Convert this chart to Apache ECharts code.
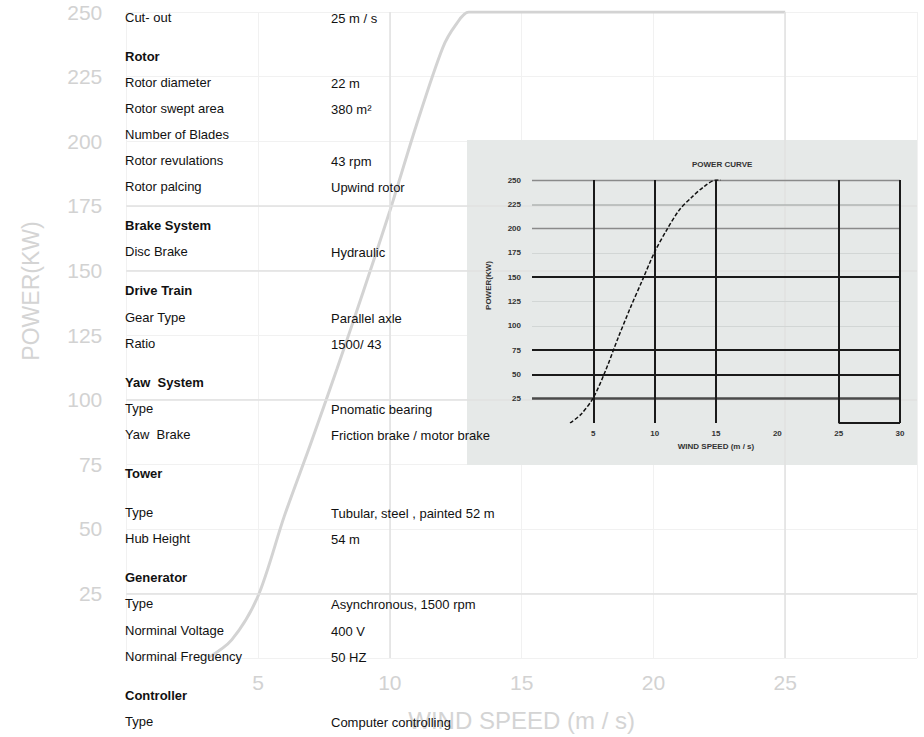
<!DOCTYPE html>
<html><head><meta charset="utf-8">
<script src="https://cdn.jsdelivr.net/npm/echarts@6/dist/echarts.min.js"></script>
<style>html,body{margin:0;padding:0;background:#fff}#c{width:924px;height:737px}</style>
</head><body><div id="c"></div>
<script>
// ---- main power curve (faded background chart) ----
const windSpeed = [3.1, 4, 5,  6,  7,  8,   9,   10,  11,  12,  12.5, 13,  25];
const power     = [0,   7, 24, 55, 83, 112, 142, 173, 206, 236, 245,  250, 250];
const strongPowerLines = [175, 150, 100, 25];
const strongWindLines = [10, 25];

// ---- inset power curve ----
const insetWind  = [3.1, 4, 5,  6,  7,  8,   9,   10,  11,  12,  13,  14,  15,  15.4];
const insetPower = [0,   9, 26, 54, 87, 118, 147, 176, 199, 219, 232, 243, 250, 250];
const insetBoldPower = [150, 75, 50];
const insetDarkPower = [25];
const insetMidPower = [250, 200];
const insetLightPower = [225];
const insetFaintPower = [175, 125, 100];
const insetWindLines = [5, 10, 15, 25, 30];
const insetBaseSegment = [25, 30];

// ---- specification table ----
const specLabels = ['Cut- out','Rotor','Rotor diameter','Rotor swept area','Number of Blades','Rotor revulations','Rotor palcing','Brake System','Disc Brake','Drive Train','Gear Type','Ratio','Yaw  System','Type','Yaw  Brake','Tower','Type','Hub Height','Generator','Type','Norminal Voltage','Norminal Freguency','Controller','Type'];
const specValues = ['25 m / s','','22 m','380 m\u00B2','','43 rpm','Upwind rotor','','Hydraulic','','Parallel axle','1500/ 43','','Pnomatic bearing','Friction brake / motor brake','','Tubular, steel , painted 52 m','54 m','','Asynchronous, 1500 rpm','400 V','50 HZ','','Computer controlling'];
const sectionHeaders = ['Rotor','Brake System','Drive Train','Yaw  System','Tower','Generator','Controller'];

// layout of table rows
const gapBefore = new Set([1,7,9,12,15,16,18,22]);
const FONT = "'Liberation Sans', Arial, Helvetica, sans-serif";
const tableTexts = [];
let y = 17;
specLabels.forEach((lab, i) => {
  if (gapBefore.has(i)) y += 13;
  const bold = sectionHeaders.includes(lab);
  tableTexts.push({type:'text', z:10, silent:true, style:{text:lab, x:125, y:y, fill:'#111', font:(bold?'bold ':'')+'13px '+FONT, verticalAlign:'middle', textAlign:'left'}});
  if (specValues[i]) tableTexts.push({type:'text', z:10, silent:true, style:{text:specValues[i], x:331, y:y+1, fill:'#111', font:'13px '+FONT, verticalAlign:'middle', textAlign:'left'}});
  y += 26.1;
});

const mainData = windSpeed.map((w,i)=>[w, power[i]]);
const insetData = insetWind.map((w,i)=>[w, insetPower[i]]);

const insetMarks = [];
insetBoldPower.forEach(v=>insetMarks.push({yAxis:v, lineStyle:{color:'#1a1a1a', width:2, type:'solid'}}));
insetDarkPower.forEach(v=>insetMarks.push({yAxis:v, lineStyle:{color:'#4a4a4a', width:2.5, type:'solid'}}));
insetMidPower.forEach(v=>insetMarks.push({yAxis:v, lineStyle:{color:'#8a8a8a', width:1.3, type:'solid'}}));
insetLightPower.forEach(v=>insetMarks.push({yAxis:v, lineStyle:{color:'#b0b4b3', width:1.5, type:'solid'}}));
insetFaintPower.forEach(v=>insetMarks.push({yAxis:v, lineStyle:{color:'#d2d6d5', width:1, type:'solid'}}));
insetWindLines.forEach(v=>insetMarks.push({xAxis:v, lineStyle:{color:'#1a1a1a', width:2, type:'solid'}}));
insetMarks.push([{coord:[insetBaseSegment[0],0], lineStyle:{color:'#1a1a1a', width:2, type:'solid'}},{coord:[insetBaseSegment[1],0]}]);

const mainMarks = [];
strongPowerLines.forEach(v=>mainMarks.push({yAxis:v}));
strongWindLines.forEach(v=>mainMarks.push({xAxis:v}));

const chart = echarts.init(document.getElementById('c'), null, {renderer:'svg'});
chart.setOption({
  animation:false,
  backgroundColor:'#fff',
  title:{text:'POWER CURVE', left:692, top:160, padding:0, textStyle:{fontSize:8, fontWeight:'bold', color:'#333', fontFamily:FONT}},
  grid:[
    {left:126.25, right:7, top:12, bottom:74},
    {left:532, right:24, top:180, bottom:314}
  ],
  xAxis:[
    {type:'value', gridIndex:0, min:0, max:30, interval:5,
     name:'WIND SPEED (m / s)', nameLocation:'middle', nameGap:50,
     nameTextStyle:{fontSize:24, color:'#d4d4d4', fontFamily:FONT},
     axisLine:{show:false}, axisTick:{show:false},
     axisLabel:{fontSize:21, color:'#d2d2d2', margin:14, fontFamily:FONT, showMinLabel:false, showMaxLabel:false},
     splitLine:{show:true, lineStyle:{color:'#f1f1f1', width:1}}},
    {type:'value', gridIndex:1, min:0, max:30, interval:5, z:5,
     name:'WIND SPEED (m / s)', nameLocation:'middle', nameGap:19,
     nameTextStyle:{fontSize:8, fontWeight:'bold', color:'#333', fontFamily:FONT},
     axisLine:{show:false}, axisTick:{show:false},
     axisLabel:{fontSize:8, fontWeight:'bold', color:'#333', margin:6, fontFamily:FONT, showMinLabel:false},
     splitLine:{show:false}}
  ],
  yAxis:[
    {type:'value', gridIndex:0, min:0, max:250, interval:25,
     name:'POWER(KW)', nameLocation:'middle', nameGap:84,
     nameTextStyle:{fontSize:23, color:'#d4d4d4', fontFamily:FONT, padding:[0,0,0,88]},
     axisLine:{show:false}, axisTick:{show:false},
     axisLabel:{fontSize:21, color:'#d2d2d2', margin:24, fontFamily:FONT, showMinLabel:false},
     splitLine:{show:true, lineStyle:{color:'#f1f1f1', width:1}}},
    {type:'value', gridIndex:1, min:0, max:250, interval:25, z:5,
     name:'POWER(KW)', nameLocation:'middle', nameGap:40,
     nameTextStyle:{fontSize:8, fontWeight:'bold', color:'#333', fontFamily:FONT, padding:[0,0,0,32]},
     axisLine:{show:false}, axisTick:{show:false},
     axisLabel:{fontSize:8, fontWeight:'bold', color:'#333', margin:11, fontFamily:FONT, showMinLabel:false},
     splitLine:{show:false}}
  ],
  graphic:[
    {type:'rect', z:3, silent:true, shape:{x:467, y:140, width:450, height:325}, style:{fill:'#e6e9e8'}}
  ].concat(tableTexts),
  series:[
    {type:'line', xAxisIndex:0, yAxisIndex:0, z:2, data:mainData, smooth:0.3, showSymbol:false,
     lineStyle:{color:'#d3d3d3', width:3},
     markLine:{silent:true, symbol:'none', label:{show:false}, lineStyle:{color:'#e0e0e0', width:1.5, type:'solid'}, data:mainMarks}},
    {type:'line', xAxisIndex:1, yAxisIndex:1, z:6, data:insetData, smooth:0.3, showSymbol:false,
     lineStyle:{color:'#111', width:1.5, type:[4,2]},
     markLine:{silent:true, symbol:'none', label:{show:false}, data:insetMarks}}
  ]
});
</script></body></html>
